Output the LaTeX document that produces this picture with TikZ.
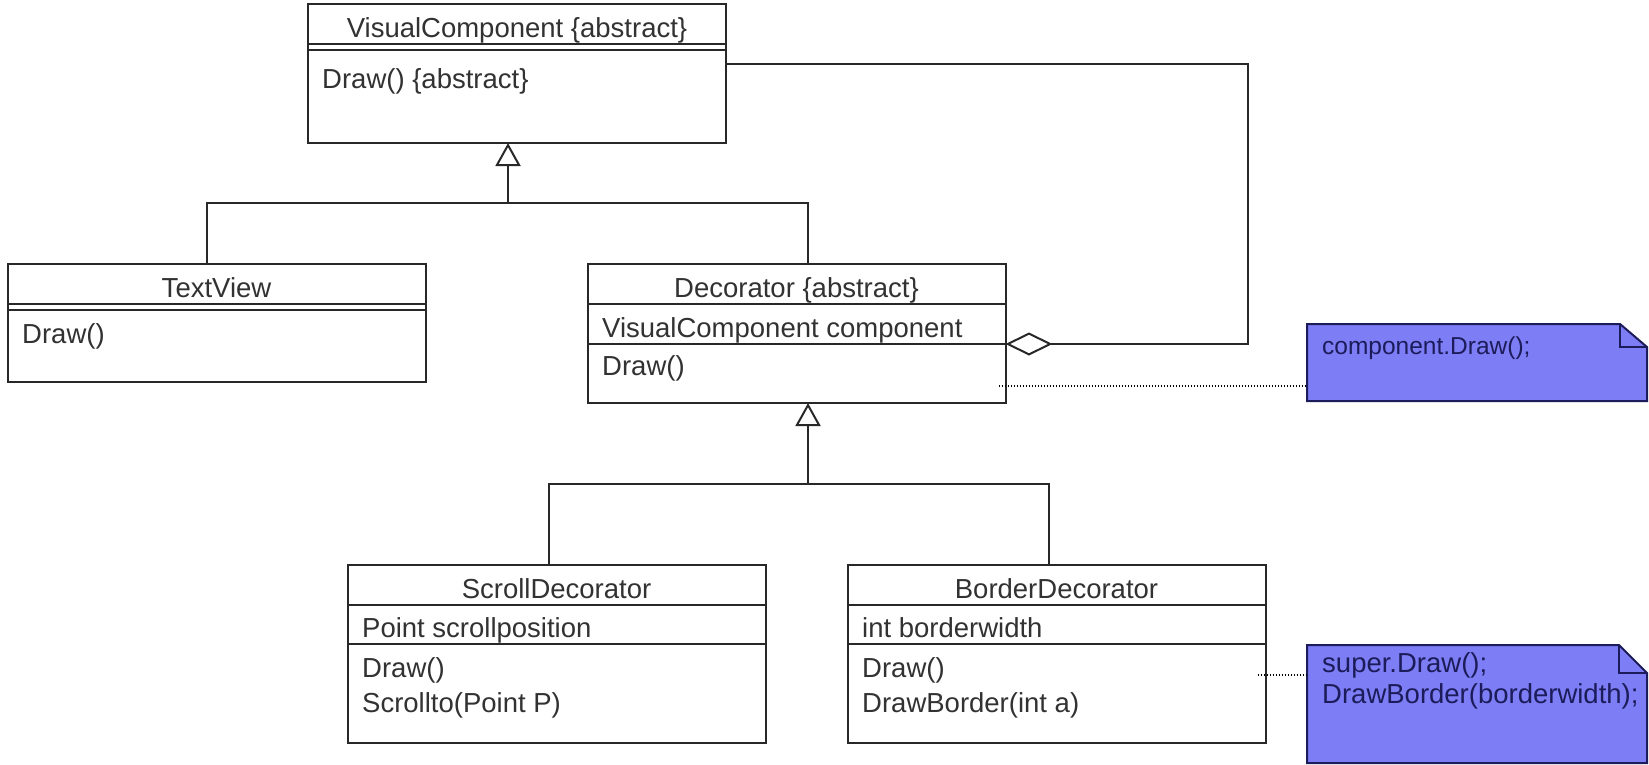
\documentclass[tikz,border=0pt]{standalone}
\usepackage{fontspec}
\setmainfont{Liberation Sans}
\usetikzlibrary{arrows.meta,calc}
\definecolor{ink}{RGB}{40,40,40}
\definecolor{txtgray}{RGB}{50,50,50}
\definecolor{notefill}{RGB}{125,125,245}
\definecolor{noteink}{RGB}{28,28,90}

\begin{document}
\begin{tikzpicture}[x=1pt,y=-1pt,
  cls/.style={draw=ink, line width=2pt, fill=white, inner sep=0pt, outer sep=0pt},
  sep/.style={draw=ink, line width=2pt},
  lbl/.style={text=txtgray, font=\fontsize{27.5}{30}\selectfont, inner sep=0pt, anchor=base west},
  ttl/.style={text=txtgray, font=\fontsize{27.5}{30}\selectfont, inner sep=0pt, anchor=base},
  gen/.style={draw=ink, line width=2pt, -{Triangle[length=23pt, width=25pt, fill=white]}},
  agg/.style={draw=ink, line width=2pt, {Diamond[length=47pt, width=23pt, fill=white]}-},
  link/.style={draw=black, line width=1.6pt, dash pattern=on 1.6pt off 1.4pt},
  notebg/.style={fill=notefill, draw=noteink, line width=2pt},
  notebox/.style={inner sep=0pt, outer sep=0pt},
  notetxt/.style={text=noteink, inner sep=0pt, anchor=base west},
]
\useasboundingbox (0,0) rectangle (1649,764);

% ---- class boxes ----
\node[cls, minimum width=418pt, minimum height=139pt] (vc)  at (517,73.5) {};
\node[cls, minimum width=418pt, minimum height=118pt] (tv)  at (216.5,323) {};
\node[cls, minimum width=418pt, minimum height=139pt] (dec) at (796.5,333.5) {};
\node[cls, minimum width=418pt, minimum height=178pt] (sd)  at (556.5,654) {};
\node[cls, minimum width=418pt, minimum height=178pt] (bd)  at (1056.5,654) {};

% compartments
\draw[sep] (vc.west |- 0,44) -- (vc.east |- 0,44);
\draw[sep] (vc.west |- 0,50) -- (vc.east |- 0,50);
\draw[sep] (tv.west |- 0,304) -- (tv.east |- 0,304);
\draw[sep] (tv.west |- 0,310) -- (tv.east |- 0,310);
\draw[sep] (dec.west |- 0,304) -- (dec.east |- 0,304);
\draw[sep] (dec.west |- 0,344) -- (dec.east |- 0,344);
\draw[sep] (sd.west |- 0,605) -- (sd.east |- 0,605);
\draw[sep] (sd.west |- 0,644) -- (sd.east |- 0,644);
\draw[sep] (bd.west |- 0,605) -- (bd.east |- 0,605);
\draw[sep] (bd.west |- 0,644) -- (bd.east |- 0,644);

% texts
\node[ttl] (vc-name) at (517,37) {VisualComponent \{abstract\}};
\node[lbl] (vc-op1) at (322,88) {Draw() \{abstract\}};
\node[ttl] (tv-name) at (216.5,297) {TextView};
\node[lbl] (tv-op1) at (22,343) {Draw()};
\node[ttl] (dec-name) at (796.5,297) {Decorator \{abstract\}};
\node[lbl] (dec-at1) at (602,337) {VisualComponent component};
\node[lbl] (dec-op1) at (602,375) {Draw()};
\node[ttl] (sd-name) at (556.5,598) {ScrollDecorator};
\node[lbl] (sd-at1) at (362,637) {Point scrollposition};
\node[lbl] (sd-op1) at (362,677) {Draw()};
\node[lbl] (sd-op2) at (362,712) {Scrollto(Point P)};
\node[ttl] (bd-name) at (1056.5,598) {BorderDecorator};
\node[lbl] (bd-at1) at (862,637) {int borderwidth};
\node[lbl] (bd-op1) at (862,677) {Draw()};
\node[lbl] (bd-op2) at (862,712) {DrawBorder(int a)};

% ---- notes ----
\node[notebox, minimum width=340pt, minimum height=77pt] (n1) at (1477,362.5) {};
\path[notebg] (n1.north west) -- ($(n1.north east)+(-27,0)$) -- ($(n1.north east)+(0,23)$)
  -- (n1.south east) -- (n1.south west) -- cycle;
\draw[draw=noteink, line width=2pt] ($(n1.north east)+(-27,0)$) |- ($(n1.north east)+(0,23)$);
\node[notetxt, font=\fontsize{24.5}{27}\selectfont] (n1-t) at (1322,354) {component.Draw();};

\node[notebox, minimum width=340pt, minimum height=118pt] (n2) at (1477,704) {};
\path[notebg] (n2.north west) -- ($(n2.north east)+(-28,0)$) -- ($(n2.north east)+(0,28)$)
  -- (n2.south east) -- (n2.south west) -- cycle;
\draw[draw=noteink, line width=2pt] ($(n2.north east)+(-28,0)$) |- ($(n2.north east)+(0,28)$);
\node[notetxt, font=\fontsize{27.5}{31}\selectfont] (n2-t1) at (1322,672) {super.Draw();};
\node[notetxt, font=\fontsize{27.5}{31}\selectfont] (n2-t2) at (1322,703) {DrawBorder(borderwidth);};

% ---- generalisations ----
\coordinate (vcin) at ($(vc.south)+(-9,0)$);
\coordinate (bus1) at ($(vcin)+(0,60)$);
\draw[sep] ($(tv.north)+(-9.5,0)$) |- (bus1);
\draw[sep] ($(dec.north)+(11.5,0)$) |- (bus1);
\draw[gen] (bus1) -- (vcin);

\coordinate (decin) at ($(dec.south)+(11.5,0)$);
\coordinate (bus2) at ($(decin)+(0,81)$);
\draw[sep] ($(sd.north)+(-8,0)$) |- (bus2);
\draw[sep] ($(bd.north)+(-8,0)$) |- (bus2);
\draw[gen] (bus2) -- (decin);

% ---- aggregation ----
\coordinate (aggend) at ($(dec.north east)+(0,80)$);
\draw[agg] (aggend) -- ++(242,0) |- ($(vc.north east)+(0,60)$);

% ---- note links ----
\coordinate (l1) at ($(dec.south east)+(-7,-17)$);
\draw[link] (l1) -- (l1 -| n1.west);
\coordinate (l2) at ($(bd.north east)+(-8,110)$);
\draw[link] (l2) -- (l2 -| n2.west);
\end{tikzpicture}
\end{document}
